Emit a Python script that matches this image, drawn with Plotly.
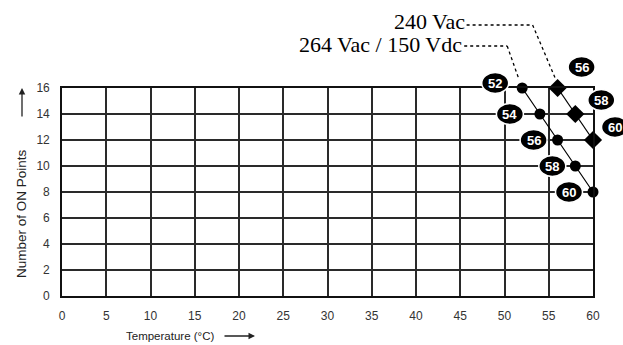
import plotly.graph_objects as go

# Derating curves: number of ON points vs ambient temperature
temp_264 = [52, 54, 56, 58, 60]
points_264 = [16, 14, 12, 10, 8]
temp_240 = [56, 58, 60]
points_240 = [16, 14, 12]

x_ticks = list(range(0, 61, 5))
y_ticks = list(range(0, 17, 2))
X_RANGE = (0, 60)
Y_RANGE = (0, 16)

name_264 = "264 Vac / 150 Vdc"
name_240 = "240 Vac"

# pixel offsets of the temperature badges from their points (right, up)
badge_offsets_264 = [(-27, 5), (-30, 0), (-24, 0), (-23, 0), (-24, 0)]
badge_offsets_240 = [(24, 21), (26, 14), (22, 13)]


def px(v):
    return (v - X_RANGE[0]) / (X_RANGE[1] - X_RANGE[0])


def py(v):
    return (v - Y_RANGE[0]) / (Y_RANGE[1] - Y_RANGE[0])


fig = go.Figure()

fig.add_trace(go.Scatter(
    x=temp_264, y=points_264, mode="lines+markers",
    line=dict(color="black", width=1.2, shape="spline"),
    marker=dict(symbol="circle", size=11, color="black"),
    cliponaxis=False, showlegend=False,
))
fig.add_trace(go.Scatter(
    x=temp_240, y=points_240, mode="lines+markers",
    line=dict(color="black", width=1.2),
    marker=dict(symbol="diamond", size=14, color="black"),
    cliponaxis=False, showlegend=False,
))

shapes = []
annotations = []


def badge(xv, yv, dx, dy):
    shapes.append(dict(
        type="circle", xref="paper", yref="paper",
        xsizemode="pixel", ysizemode="pixel",
        xanchor=px(xv), yanchor=py(yv),
        x0=dx - 13.5, x1=dx + 13.5, y0=dy - 10.5, y1=dy + 10.5,
        fillcolor="black", line=dict(color="white", width=1.5),
    ))
    annotations.append(dict(
        x=px(xv), y=py(yv), xref="paper", yref="paper",
        xanchor="center", yanchor="middle",
        text=f"<b>{xv}</b>", showarrow=False, xshift=dx, yshift=dy,
        font=dict(family="Liberation Sans", size=13, color="white"),
    ))


for (t, p), (dx, dy) in zip(zip(temp_264, points_264), badge_offsets_264):
    badge(t, p, dx, dy)
for (t, p), (dx, dy) in zip(zip(temp_240, points_240), badge_offsets_240):
    badge(t, p, dx, dy)


def leader(xv, yv, pts):
    for (ax0, ay0), (ax1, ay1) in zip(pts[:-1], pts[1:]):
        shapes.append(dict(
            type="line", xref="paper", yref="paper",
            xsizemode="pixel", ysizemode="pixel",
            xanchor=px(xv), yanchor=py(yv),
            x0=ax0, y0=ay0, x1=ax1, y1=ay1,
            line=dict(color="black", width=1.3, dash="dot"),
        ))


leader(temp_240[0], points_240[0], [(-91, 63), (-25, 63), (-2, 9)])
leader(temp_264[0], points_264[0], [(-58, 42), (-15, 42), (-3, 8)])

annotations.append(dict(
    x=px(temp_240[0]), y=py(points_240[0]), xref="paper", yref="paper",
    text=name_240, showarrow=False, xanchor="right", yanchor="middle",
    xshift=-91, yshift=67,
    font=dict(family="Liberation Serif", size=22, color="black"),
))
annotations.append(dict(
    x=px(temp_264[0]), y=py(points_264[0]), xref="paper", yref="paper",
    text=name_264, showarrow=False, xanchor="right", yanchor="middle",
    xshift=-58, yshift=44,
    font=dict(family="Liberation Serif", size=22, color="black"),
))

# Axis titles with direction arrows
annotations.append(dict(
    x=0, y=0.5, xref="paper", yref="paper", text="Number of ON Points",
    textangle=-90, showarrow=False, xanchor="center", yanchor="middle",
    xshift=-41, yshift=-22,
    font=dict(family="Liberation Sans", size=13.5, color="#222"),
))
annotations.append(dict(
    x=0, y=1, xref="paper", yref="paper", text="", showarrow=True,
    ax=0, ay=30, xshift=-40, arrowhead=2, arrowsize=1, arrowwidth=1.3,
    arrowcolor="#222",
))
annotations.append(dict(
    x=0, y=0, xref="paper", yref="paper", text="Temperature (°C)",
    showarrow=False, xanchor="left", yanchor="middle", yshift=-40, xshift=62,
    font=dict(family="Liberation Sans", size=11.5, color="#222"),
))
annotations.append(dict(
    x=0, y=0, xref="paper", yref="paper", text="", showarrow=True,
    ax=-32, ay=0, xshift=193, yshift=-40, arrowhead=2, arrowsize=1,
    arrowwidth=1.3, arrowcolor="#222",
))

axis_common = dict(
    showgrid=True, gridcolor="#2a2a2a", gridwidth=1.6,
    showline=True, linecolor="#111", linewidth=1.6, mirror=True,
    zeroline=False, ticks="",
    tickfont=dict(family="Liberation Sans", size=12, color="#333"),
    fixedrange=True,
)

fig.update_layout(
    width=623, height=345,
    margin=dict(l=62, r=30, t=88, b=49),
    paper_bgcolor="white", plot_bgcolor="white",
    xaxis=dict(range=list(X_RANGE), tickvals=x_ticks, ticklabelstandoff=8, **axis_common),
    yaxis=dict(range=list(Y_RANGE), tickvals=y_ticks, ticklabelstandoff=8, **axis_common),
    shapes=shapes, annotations=annotations,
)

fig.write_html("out.html")
